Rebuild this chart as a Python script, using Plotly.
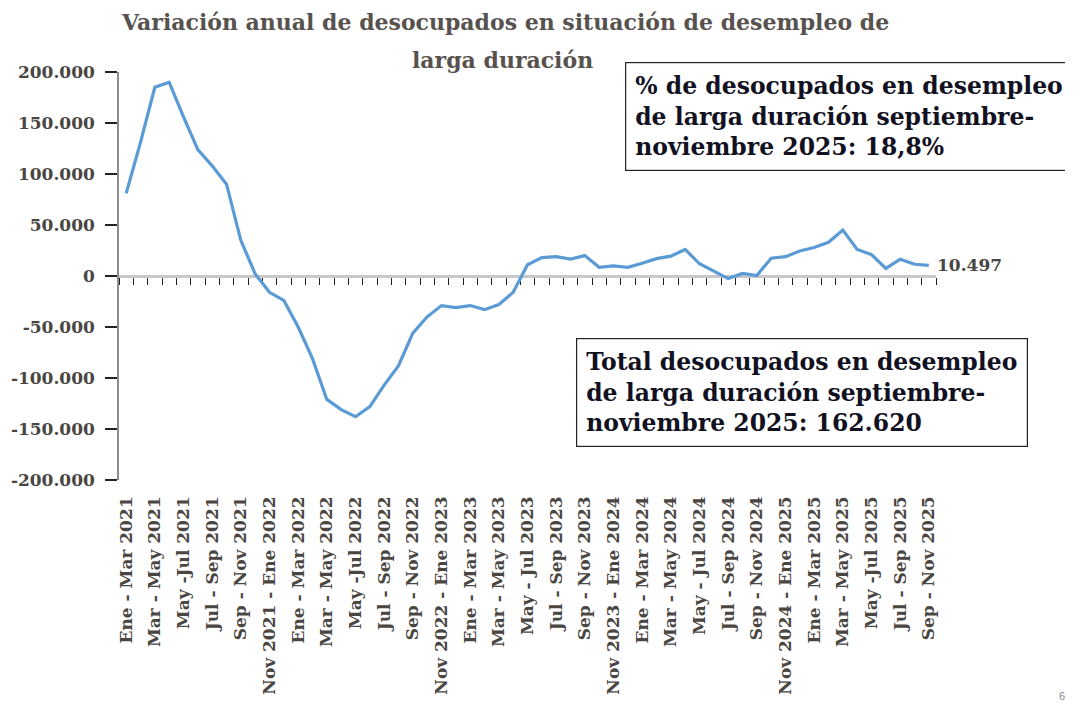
import plotly.graph_objects as go

categories = [
    "Ene - Mar 2021", "Feb - Abr 2021", "Mar - May 2021", "Abr - Jun 2021", "May - Jul 2021",
    "Jun - Ago 2021", "Jul - Sep 2021", "Ago - Oct 2021", "Sep - Nov 2021", "Oct - Dic 2021",
    "Nov 2021 - Ene 2022", "Dic 2021 - Feb 2022", "Ene - Mar 2022", "Feb - Abr 2022", "Mar - May 2022",
    "Abr - Jun 2022", "May - Jul 2022", "Jun - Ago 2022", "Jul - Sep 2022", "Ago - Oct 2022",
    "Sep - Nov 2022", "Oct - Dic 2022", "Nov 2022 - Ene 2023", "Dic 2022 - Feb 2023", "Ene - Mar 2023",
    "Feb - Abr 2023", "Mar - May 2023", "Abr - Jun 2023", "May - Jul 2023", "Jun - Ago 2023",
    "Jul - Sep 2023", "Ago - Oct 2023", "Sep - Nov 2023", "Oct - Dic 2023", "Nov 2023 - Ene 2024",
    "Dic 2023 - Feb 2024", "Ene - Mar 2024", "Feb - Abr 2024", "Mar - May 2024", "Abr - Jun 2024",
    "May - Jul 2024", "Jun - Ago 2024", "Jul - Sep 2024", "Ago - Oct 2024", "Sep - Nov 2024",
    "Oct - Dic 2024", "Nov 2024 - Ene 2025", "Dic 2024 - Feb 2025", "Ene - Mar 2025", "Feb - Abr 2025",
    "Mar - May 2025", "Abr - Jun 2025", "May - Jul 2025", "Jun - Ago 2025", "Jul - Sep 2025",
    "Ago - Oct 2025", "Sep - Nov 2025",
]

variacion = [
    81000, 131000, 185000, 190000, 156000, 124000, 108000, 90000, 35000, 2000,
    -16000, -24000, -50000, -81000, -121000, -131000, -138000, -128000, -107000, -88000,
    -56000, -40000, -29000, -31000, -29000, -33000, -28000, -16000, 11000, 18000,
    19000, 16500, 20000, 8500, 10000, 8500, 12500, 17000, 19500, 26000,
    12000, 5000, -2500, 2500, 500, 17500, 19000, 24500, 28000, 33000,
    45000, 26000, 21000, 7500, 16500, 11500, 10497,
]

x_tick_labels = [
    "Ene - Mar 2021", "Mar - May 2021", "May -Jul 2021", "Jul - Sep 2021", "Sep - Nov 2021",
    "Nov 2021 - Ene 2022", "Ene - Mar 2022", "Mar - May 2022", "May -Jul 2022", "Jul - Sep 2022",
    "Sep - Nov 2022", "Nov 2022 - Ene 2023", "Ene - Mar 2023", "Mar - May 2023", "May - Jul 2023",
    "Jul - Sep 2023", "Sep - Nov 2023", "Nov 2023 - Ene 2024", "Ene - Mar 2024", "Mar - May 2024",
    "May - Jul 2024", "Jul - Sep 2024", "Sep - Nov 2024", "Nov 2024 - Ene 2025", "Ene - Mar 2025",
    "Mar - May 2025", "May -Jul 2025", "Jul - Sep 2025", "Sep - Nov 2025",
]

y_tick_values = [-200000, -150000, -100000, -50000, 0, 50000, 100000, 150000, 200000]
y_tick_labels = ["-200.000", "-150.000", "-100.000", "-50.000", "0",
                 "50.000", "100.000", "150.000", "200.000"]

title_line1 = "Variación anual de desocupados en situación de desempleo de"
title_line2 = "larga duración"
last_label = "10.497"
box_pct = "% de desocupados en desempleo<br>de larga duración septiembre-<br>noviembre 2025: 18,8%"
box_total = "Total desocupados en desempleo<br>de larga duración septiembre-<br>noviembre 2025: 162.620"
page_number = "6"

FONT = "DejaVu Serif"
LINE_BLUE = "#5B9BD5"
TXT_GRAY = "#4a4642"
TXT_DARK = "#111122"

fig = go.Figure()
fig.add_trace(go.Scatter(
    x=categories, y=variacion, mode="lines",
    line=dict(color=LINE_BLUE, width=3.2), showlegend=False, hoverinfo="skip",
))
# invisible copy to drive the zero-line axis (x2)
fig.add_trace(go.Scatter(
    x=categories, y=variacion, mode="lines", xaxis="x2",
    line=dict(color="rgba(0,0,0,0)", width=0), showlegend=False, hoverinfo="skip",
))

fig.update_layout(
    width=1057, height=697,
    margin=dict(l=111, r=129, t=64, b=225, autoexpand=False),
    paper_bgcolor="white", plot_bgcolor="white",
    font=dict(family=FONT, color=TXT_GRAY),
    xaxis=dict(
        type="category", categoryorder="array", categoryarray=categories,
        range=[-0.5, len(categories) - 0.5], automargin=False,
        tickmode="array", tickvals=categories[0::2], ticktext=x_tick_labels,
        tickangle=-90, ticks="", showline=False, showgrid=False, zeroline=False,
        ticklabelstandoff=12,
        tickfont=dict(family=FONT, size=17, color=TXT_GRAY, weight="bold"),
    ),
    xaxis2=dict(
        type="category", categoryorder="array", categoryarray=categories,
        range=[-0.5, len(categories) - 0.5], automargin=False,
        overlaying="x", anchor="free", position=0.5, side="bottom",
        tickmode="linear", tick0=0, dtick=1, tickson="boundaries",
        ticks="outside", ticklen=7, tickwidth=1.3, tickcolor="#222222",
        showticklabels=False, showline=True, linecolor="#c8c8c8", linewidth=3,
        showgrid=False, zeroline=False, layer="below traces",
    ),
    yaxis=dict(
        range=[-200000, 200000], automargin=False,
        tickmode="array", tickvals=y_tick_values, ticktext=y_tick_labels,
        ticks="outside", ticklen=12, tickwidth=1.5, tickcolor="#222222",
        ticklabelstandoff=7,
        showline=True, linecolor="#8c8c8c", linewidth=1.5,
        showgrid=False, zeroline=False,
        tickfont=dict(family=FONT, size=17, color=TXT_GRAY, weight="bold"),
    ),
    annotations=[
        dict(text=title_line1, xref="paper", yref="paper", x=(505 - 119) / 817, y=(480 - 22) / 408,
             xanchor="center", yanchor="middle", showarrow=False,
             font=dict(family=FONT, size=22, color="#58524e", weight="bold")),
        dict(text=title_line2, xref="paper", yref="paper", x=(502 - 119) / 817, y=(480 - 60) / 408,
             xanchor="center", yanchor="middle", showarrow=False,
             font=dict(family=FONT, size=22, color="#58524e", weight="bold")),
        dict(text=last_label, x=categories[-1], y=variacion[-1], xref="x", yref="y",
             xanchor="left", yanchor="middle", xshift=6, showarrow=False,
             font=dict(family=FONT, size=17, color=TXT_GRAY, weight="bold")),
        dict(text=box_pct, xref="paper", yref="paper", x=(625 - 119) / 817, y=(480 - 62) / 408,
             xanchor="left", yanchor="top", align="left", showarrow=False,
             bordercolor="#222222", borderwidth=1.2, borderpad=9, bgcolor="white",
             font=dict(family=FONT, size=23.5, color=TXT_DARK, weight="bold")),
        dict(text=box_total, xref="paper", yref="paper", x=(576 - 119) / 817, y=(480 - 338) / 408,
             xanchor="left", yanchor="top", align="left", showarrow=False,
             bordercolor="#222222", borderwidth=1.2, borderpad=9, bgcolor="white",
             font=dict(family=FONT, size=23.5, color=TXT_DARK, weight="bold")),
        dict(text=page_number, xref="paper", yref="paper", x=(1062 - 119) / 817, y=(480 - 704) / 408,
             xanchor="center", yanchor="bottom", showarrow=False,
             font=dict(family="Liberation Sans", size=11, color="#888888")),
    ],
)

fig.write_html("out.html")
